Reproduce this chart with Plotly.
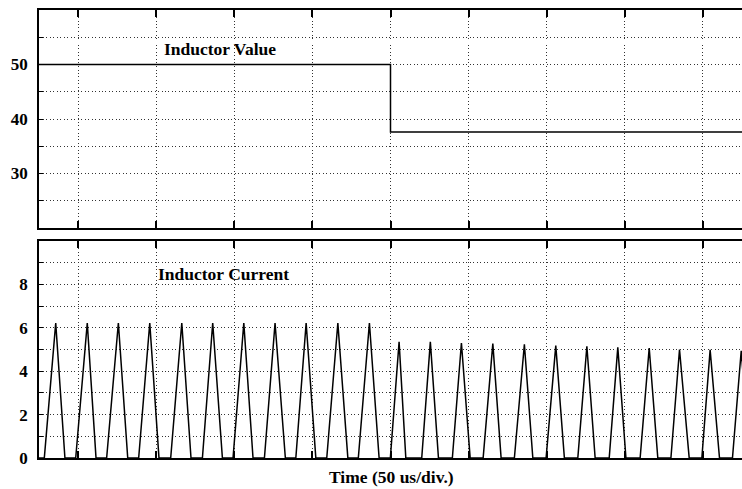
import plotly.graph_objects as go

# ---- data (time in microseconds, 50 us per division) ----
L_time = [0, 225, 450]
L_value = [50, 37.6, 37.6]

pulse_start = [3.4, 23.5, 43.3, 63.8, 84.3, 104.6, 124.2, 144.3, 164.4, 184.2, 204.4,
               224.9, 245.0, 264.6, 284.3, 304.3, 324.6, 344.9, 365.0, 384.8, 404.5, 424.3, 443.9]
pulse_peak_t = [10.7, 30.9, 50.8, 70.9, 91.4, 111.2, 131.1, 151.1, 171.0, 191.3, 211.5,
                230.5, 250.5, 270.4, 290.5, 310.7, 330.8, 350.7, 370.5, 390.6, 410.0, 429.6, 449.5]
pulse_end = [16.6, 36.5, 56.8, 76.8, 97.3, 117.4, 137.0, 157.7, 177.2, 197.7, 217.7,
             234.8, 255.7, 276.0, 295.8, 316.1, 336.3, 356.0, 375.7, 396.1, 416.2, 435.6, 455.0]
pulse_peak_i = [6.22, 6.22, 6.22, 6.22, 6.22, 6.22, 6.22, 6.22, 6.22, 6.22, 6.22,
                5.35, 5.35, 5.30, 5.27, 5.24, 5.18, 5.15, 5.10, 5.07, 5.00, 4.98, 4.94]

top_ticks = [25, 30, 35, 40, 45, 50, 55]
top_labels = ["", "30", "", "40", "", "50", ""]
bot_ticks = [0, 1, 2, 3, 4, 5, 6, 7, 8, 9]
bot_labels = ["0", "", "2", "", "4", "", "6", "", "8", ""]
x_ticks = [25, 75, 125, 175, 225, 275, 325, 375, 425]

# build the current waveform from the pulse table
cur_t = [0.0]
cur_i = [0.0]
for s, p, e, ip in zip(pulse_start, pulse_peak_t, pulse_end, pulse_peak_i):
    cur_t += [s, p, e]
    cur_i += [0.0, ip, 0.0]

FONT = "Liberation Serif"
W, H = 742, 489
ml, mr, mt, mb = 39, 0, 10, 31
ph = H - mt - mb

def py(px):
    return (H - mb - px) / ph

fig = go.Figure()
fig.add_trace(go.Scatter(x=L_time, y=L_value, mode="lines", line_shape="hv",
                         line=dict(color="black", width=1.5), xaxis="x2", yaxis="y2",
                         showlegend=False))
fig.add_trace(go.Scatter(x=cur_t, y=cur_i, mode="lines",
                         line=dict(color="black", width=1.5), xaxis="x", yaxis="y",
                         showlegend=False))

GRID = "1px,2.5px"
xcommon = dict(range=[0, 450], tickvals=x_ticks, showticklabels=False,
               ticks="inside", ticklen=7, tickwidth=1.5, tickcolor="black",
               showgrid=True, gridcolor="#333", griddash=GRID, gridwidth=1,
               showline=True, linecolor="black", linewidth=1.5, mirror="ticks",
               zeroline=False, automargin=False)
ycommon = dict(ticks="inside", ticklen=4, tickwidth=1, tickcolor="black",
               showgrid=True, gridcolor="#333", griddash=GRID, gridwidth=1,
               showline=True, linecolor="black", linewidth=1.5, mirror=False,
               zeroline=False, automargin=False, ticklabelstandoff=6,
               tickfont=dict(family=FONT, size=17, color="black", weight="bold"))

fig.update_layout(
    width=W, height=H,
    margin=dict(l=ml, r=mr, t=mt, b=mb, autoexpand=False),
    paper_bgcolor="white", plot_bgcolor="white",
    xaxis=dict(domain=[0, 1], anchor="y", **xcommon),
    yaxis=dict(domain=[0, py(241)], anchor="x", range=[0, 10],
               tickvals=bot_ticks, ticktext=bot_labels, **ycommon),
    xaxis2=dict(domain=[0, 1], anchor="y2", **xcommon),
    yaxis2=dict(domain=[py(228), 1], anchor="x2", range=[20, 60],
                tickvals=top_ticks, ticktext=top_labels, **ycommon),
    annotations=[
        dict(text="<b>Inductor Value</b>", x=78.8, y=52.9, xref="x2", yref="y2",
             xanchor="left", yanchor="middle", showarrow=False,
             font=dict(family=FONT, size=17.5, color="black")),
        dict(text="<b>Inductor Current</b>", x=74.9, y=8.5, xref="x", yref="y",
             xanchor="left", yanchor="middle", showarrow=False,
             font=dict(family=FONT, size=17.5, color="black")),
        dict(text="<b>Time (50 us/div.)</b>", x=(391.7 - ml) / (W - ml - mr), y=py(477),
             xref="paper", yref="paper", xanchor="center", yanchor="middle",
             showarrow=False, font=dict(family=FONT, size=17.5, color="black")),
    ],
)

fig.write_html("out.html", config={"displayModeBar": False},
               post_script="document.body.style.margin='0';document.body.style.padding='0';")
